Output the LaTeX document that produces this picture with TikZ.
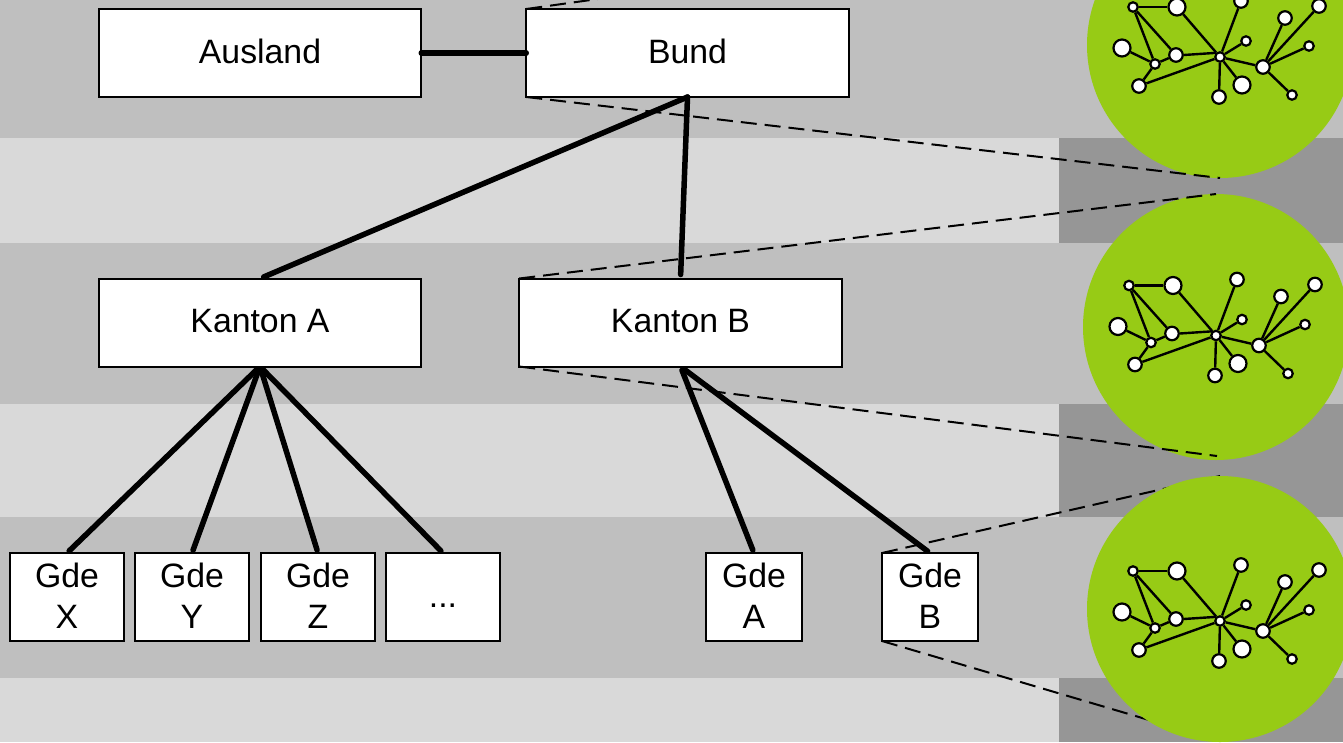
\documentclass[tikz,border=0pt]{standalone}
\usepackage{fontspec}
\setmainfont{Liberation Sans}
\usetikzlibrary{calc}
\definecolor{bandmid}{HTML}{BFBFBF}
\definecolor{bandlight}{HTML}{D9D9D9}
\definecolor{banddark}{HTML}{969696}
\definecolor{netzgreen}{HTML}{97CB15}
\tikzset{
     ebene/.style = {draw=black, line width=2pt, fill=white, inner sep=0pt, outer sep=0pt, minimum height=88pt, align=center, text depth=4pt, font=\fontsize{33.8}{40.6}\selectfont},
     gross/.style = {ebene, minimum width=322.5pt},
     gde/.style = {ebene, minimum width=114pt, text depth=3pt},
     gdeklein/.style = {gde, minimum width=96pt},
     link/.style = {black, line width=5.5pt, line cap=round},
     linkab/.style = {link, shorten >=4pt},
     linklang/.style = {link, shorten <=4pt, shorten >=3pt},
     zoomlinie/.style = {black, line width=2pt, dash pattern=on 16pt off 8pt},
     kreis/.style = {circle, fill=netzgreen, inner sep=0pt, outer sep=0pt, minimum size=266pt},
     netzknoten/.style = {circle, draw=black, line width=2.2pt, fill=white, inner sep=0pt, minimum size=#1},
     netzkante/.style = {black, line width=2.4pt},
}
% kreis at (#2,#3), network moved by #4 in y
\newcommand{\netzkreis}[4]{
    \node [kreis] (#1) at (#2,#3) {};
    \begin{scope}[shift={(#2,#3+#4)}]
        \foreach \n/\px/\py/\s in {a/-87/-38/9.5pt, b/-43/-38/17pt, c/21/-44/13.5pt, d/65/-27/13.5pt,
            e/99/-39/13.5pt, f/26/-4/9.5pt, g/89/1/9.5pt, h/-98/3/17pt, i/-44/10/13.5pt, j/-65/19/9.5pt,
            k/-81/41/13.5pt, l/22/40/17pt, m/-1/52/13.5pt, n/43/22/13.5pt, o/72/50/9.5pt, z/0/12/9.5pt}
            \node [netzknoten=\s] (#1\n) at (\px,\py) {};
        \foreach \u/\v in {a/b, a/j, a/i, h/j, i/j, j/k, k/z, i.east/z.north west, b/z, c/z, f/z, m/z, l/z, z/n, n/d, n/e, n/g, n/o}
            \draw [netzkante] (#1\u) -- (#1\v);
    \end{scope}
}

\begin{document}
\begin{tikzpicture}[x=1pt,y=-1pt]
        \clip (0,0) rectangle (1343,742);
        % bands
        \fill [bandmid] (0,0) rectangle (1343,742);
        \fill [bandlight] (0,138) rectangle (1343,243);
        \fill [bandlight] (0,404) rectangle (1343,517);
        \fill [bandlight] (0,678) rectangle (1343,742);
        \fill [banddark] (1059,138) rectangle (1343,243);
        \fill [banddark] (1059,404) rectangle (1343,517);
        \fill [banddark] (1059,678) rectangle (1343,742);

        \netzkreis{netza}{1220}{45}{0}
        \netzkreis{netzb}{1216}{327}{-3.5}

        \node [gross] (ausland) at (260,53)    {Ausland};
        \node [gross] (bund)    at (687.5,53)  {Bund};
        \node [gross] (kantona) at (260,322.5) {Kanton A};
        \node [gross] (kantonb) at (680.5,322.5) {Kanton B};
        \node [gde] (gdex) at (67,597)  {Gde\\X};
        \node [gde] (gdey) at (192,597) {Gde\\Y};
        \node [gde] (gdez) at (318,597) {Gde\\Z};
        \node [gde, text height=24.6pt] (gdem) at (443,597) {...};
        \node [gdeklein] (gdea) at (754,597) {Gde\\A};
        \node [gdeklein] (gdeb) at (930,597) {Gde\\B};

        \coordinate (netzbunten) at ($(netzb.south)+(1,-4)$);
        \coordinate (netzcoben) at (1220,476);
        \coordinate (netzcunten) at (1220,741);

        \path [zoomlinie]
        (bund.north west) edge (netza.north)
        (bund.south west) edge (netza.south)
        (kantonb.north west) edge (netzb.north)
        (kantonb.south west) edge (netzbunten)
        (gdeb.north west) edge (netzcoben)
        (gdeb.south west) edge (netzcunten);

        \netzkreis{netzc}{1220}{609}{0}

        \path [link]
        (ausland.east) edge (bund.west);
        \path [linkab]
        (bund.south) edge (kantona.north)
        (bund.south) edge (kantonb.north);
        \path [linklang]
        (kantona.south) edge (gdex.north)
        (kantona.south) edge (gdey.north)
        (kantona.south) edge (gdez.north)
        (kantona.south) edge (gdem.north)
        (kantonb.south) edge (gdea.north)
        (kantonb.south) edge (gdeb.north);
    \end{tikzpicture}
\end{document}
